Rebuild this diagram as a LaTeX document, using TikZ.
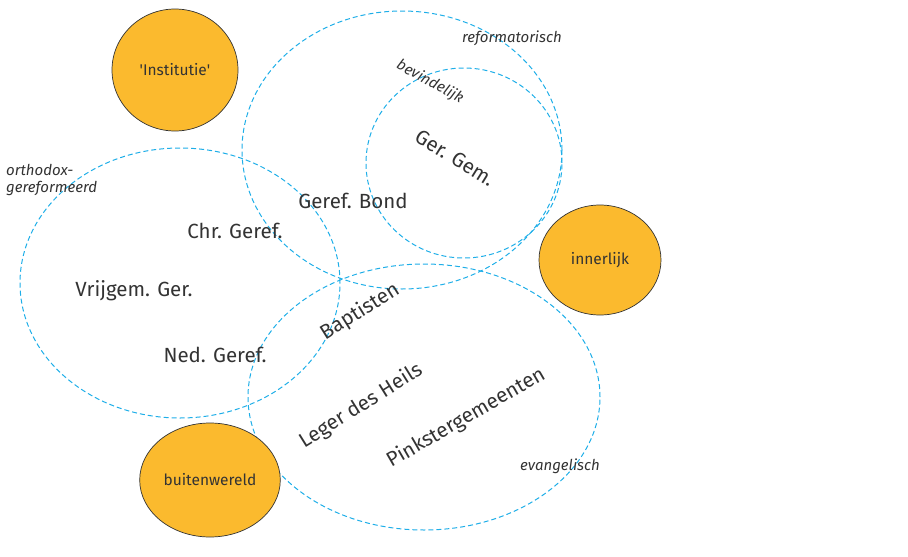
\documentclass[tikz,border=0pt]{standalone}
\usepackage{fontspec}
\setmainfont{Fira Sans}
\usetikzlibrary{shapes.geometric}
\definecolor{groupblue}{HTML}{1EAEE8}
\definecolor{poleorange}{HTML}{FBBA2E}
\definecolor{labelgray}{HTML}{333333}
\newcommand{\groupellipse}[3]% center, xradius, yradius
{(#1) ellipse (#2pt and #3pt)
}
\tikzset{
  pole/.style={ellipse, draw=black!80, fill=poleorange, line width=0.7pt,
    text=labelgray, font=\fontsize{15.5}{17}\selectfont},
  church/.style={text=labelgray, font=\fontsize{20.5}{22}\selectfont},
  stream/.style={text=labelgray, font=\fontsize{15}{17}\selectfont\itshape},
  group/.style={draw=groupblue, line width=1pt, dash pattern=on 5pt off 3pt}
}

\begin{document}
\begin{tikzpicture}[x=1pt,y=-1pt]
	\useasboundingbox (0,0) rectangle (908,557);
	% streams
	\draw[group] \groupellipse{402,150}{160}{139};%reformatorisch
	\draw[group] \groupellipse{464,163}{98}{95};%bevindelijk
	\draw[group] \groupellipse{180,283}{160}{135};%orthodox-gereformeerd
	\draw[group] \groupellipse{424,397}{176}{133};%evangelisch
	% poles
	\node[pole, minimum width=126pt, minimum height=122pt] (institutie) at (175,70){\textquotesingle Institutie\textquotesingle};
	\node[pole, minimum width=122pt, minimum height=110pt] (innerlijk) at (600,260){innerlijk};
	\node[pole, minimum width=140pt, minimum height=114pt] (buitenwereld) at (210,480){buitenwereld};
	% stream labels
	\node[stream] (reformatorisch) at (512,38){reformatorisch};
	\node[stream, rotate=-29] (bevindelijk) at (430,82){bevindelijk};
	\node[stream, align=left, anchor=west, inner sep=0pt] (orthodox) at (6,180){orthodox-\\gereformeerd};
	\node[stream] (evangelisch) at (560,466){evangelisch};
	% churches
	\node[church, rotate=-32] (gergem) at (455,158){Ger. Gem.};
	\node[church] (gerefbond) at (353,201){Geref. Bond};
	\node[church] (chrgeref) at (235,231){Chr. Geref.};
	\node[church] (vrijgem) at (134,291){Vrijgem. Ger.};
	\node[church] (nedgeref) at (215,355){Ned. Geref.};
	\node[church, rotate=32] (baptisten) at (360,312){Baptisten};
	\node[church, rotate=32] (leger) at (361,406){Leger des Heils};
	\node[church, rotate=30] (pinkster) at (466,418){Pinkstergemeenten};
\end{tikzpicture}
\end{document}
